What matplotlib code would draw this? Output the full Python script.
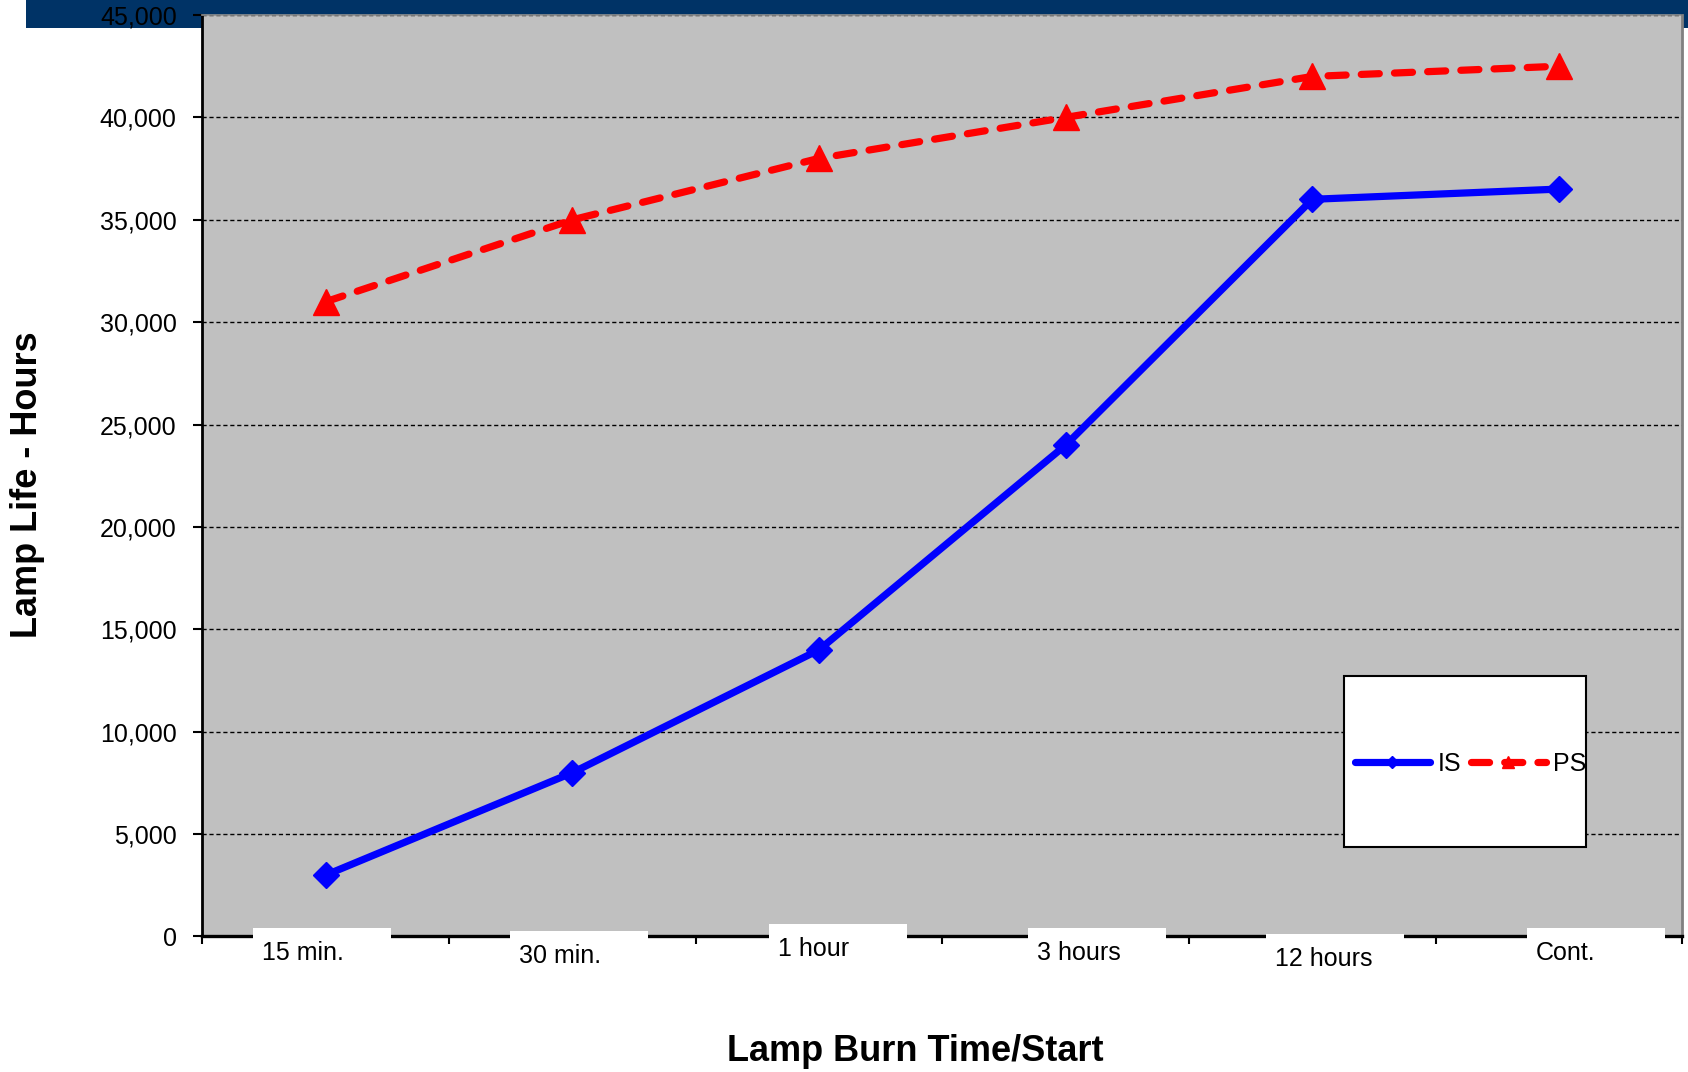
import matplotlib
matplotlib.use("Agg")
from matplotlib import pyplot as plt
from matplotlib.patches import Rectangle
import matplotlib.transforms as mtransforms
import numpy as np

# chart data
burn_times = ['15 min.', '30 min.', '1 hour', '3 hours', '12 hours', 'Cont.']
is_life = [3000, 8000, 14000, 24000, 36000, 36500]
ps_life = [31000, 35000, 38000, 40000, 42000, 42500]
y_ticks = [0, 5000, 10000, 15000, 20000, 25000, 30000, 35000, 40000, 45000]

# white label boxes are a bit off-centre in the original
label_shift = [-0.293, -0.253, -0.201, -0.153, -0.188, -0.131]  # box left edge, category units
label_drop = [0, 3, -4, 0, 6, 0]  # px downwards

plt.rcParams['font.family'] = ['Liberation Sans', 'DejaVu Sans']

fig = plt.figure(figsize=(16.88, 10.72), dpi=100)
fig.patch.set_facecolor('white')

# navy banner along the top
fig.patches.append(Rectangle((0.0154, 0.974), 1.0, 0.03, transform=fig.transFigure,
                             facecolor='#003366', edgecolor='none', zorder=-1))

ax = fig.add_axes([0.1199, 0.1264, 0.8768, 0.8596])
ax.set_zorder(1)
ax.set_facecolor('#C0C0C0')

x = np.arange(len(burn_times))
ax.plot(x, is_life, color='#0000FF', lw=5.2, marker='D', ms=13,
        solid_capstyle='round', label='IS', zorder=5)
ax.plot(x, ps_life, color='#FF0000', lw=5.2, marker='^', ms=19,
        linestyle=(0, (2.5, 2.1)), dash_capstyle='round', label='PS', zorder=5)

ax.set_xlim(-0.5, len(burn_times) - 0.5)
ax.set_ylim(0, 45000)
ax.set_yticks(y_ticks)
ax.set_yticklabels([f'{v:,}' for v in y_ticks], fontsize=18)
ax.yaxis.grid(True, color='black', linestyle=(0, (3, 2)), lw=1.0)
ax.set_axisbelow(True)

# categories sit between boundary tick marks
ax.set_xticks(x)
ax.set_xticklabels([])
ax.tick_params(axis='x', which='major', length=0)
ax.set_xticks(np.arange(-0.5, len(burn_times)), minor=True)
ax.tick_params(axis='x', which='minor', length=6, width=1.5, direction='out')
ax.tick_params(axis='y', length=6.5, width=1.5, direction='out', pad=12)

for side in ['left', 'bottom']:
    ax.spines[side].set_color('black')
ax.spines['left'].set_linewidth(2.0)
ax.spines['bottom'].set_linewidth(2.4)
ax.spines['right'].set_color('#808080')
ax.spines['right'].set_linewidth(2.0)
ax.spines['top'].set_color('#909090')
ax.spines['top'].set_linestyle((0, (3, 1)))
ax.spines['top'].set_linewidth(1.2)

# white boxes behind category labels
trans = mtransforms.blended_transform_factory(ax.transData, ax.transAxes)
for i, lab in enumerate(burn_times):
    off = mtransforms.offset_copy(trans, fig=fig, x=0, y=-label_drop[i], units='dots')
    left = i + label_shift[i]
    ax.add_patch(Rectangle((left, -0.06), 0.559, 0.069, transform=off,
                           facecolor='white', edgecolor='none', clip_on=False, zorder=3))
    ax.text(left + 0.035, -0.018, lab, transform=off, fontsize=18,
            ha='left', va='center', zorder=6, clip_on=False)

# legend box
ax.add_patch(Rectangle((0.771, 0.097), 0.164, 0.186, transform=ax.transAxes,
                       facecolor='white', edgecolor='black', lw=1.5, zorder=6))
leg = ax.legend(loc='center', bbox_to_anchor=(0.857, 0.187), bbox_transform=ax.transAxes,
                ncol=2, frameon=False, fontsize=18, handlelength=3.0,
                handletextpad=0.3, columnspacing=0.4, markerscale=0.45)
leg.set_zorder(7)

fig.text(0.016, 0.548, 'Lamp Life - Hours', rotation=90, fontsize=26,
         fontweight='bold', ha='center', va='center')
fig.text(0.542, 0.0187, 'Lamp Burn Time/Start', fontsize=26,
         fontweight='bold', ha='center', va='center')

fig.savefig('out.png', dpi=100)
